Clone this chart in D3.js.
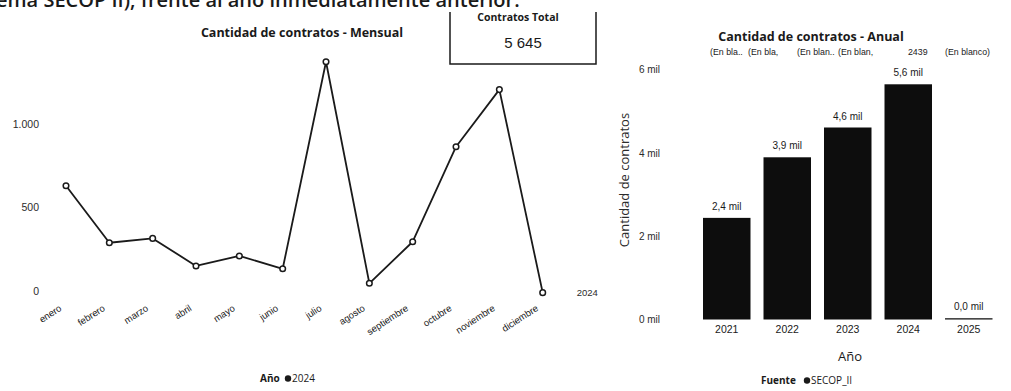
<!DOCTYPE html>
<html>
<head>
<meta charset="utf-8">
<script src="https://cdn.jsdelivr.net/npm/d3@7"></script>
<style>
  html, body { margin: 0; padding: 0; background: #fff; }
  svg { display: block; font-family: "Open Sans", "Noto Sans", sans-serif; }
</style>
</head>
<body>
<svg id="chart" width="1011" height="391"></svg>
<script>
// Monthly contracts, 2024
const months = ["enero", "febrero", "marzo", "abril", "mayo", "junio", "julio",
  "agosto", "septiembre", "octubre", "noviembre", "diciembre"];
const monthlyValues = [642, 301, 327, 162, 222, 145, 1385, 58, 307, 876, 1218, 2];
const monthlyTicks = [0, 500, 1000];

// Yearly contracts
const years = ["2021", "2022", "2023", "2024", "2025"];
const yearlyValues = [2439, 3893, 4608, 5645, 30];
const yearlyTicks = [0, 2000, 4000, 6000];
const yearlyTopLabels = ["(En bla..", "(En bla,", "(En blan..", "(En blan,", "2439", "(En blanco)"];

const totalContracts = d3.sum(monthlyValues);

const svg = d3.select("#chart");
const ink = "#1a1a1a";
const grey = "#2b2b2b";

// Heading sentence above both charts (cut off by the top edge)
svg.append("text")
  .attr("x", -4).attr("y", 7)
  .attr("font-size", 20).attr("font-weight", 600).attr("fill", ink)
  .text("ema SECOP II), frente al año inmediatamente anterior.");

// ---------- Monthly line chart ----------
const x = d3.scalePoint().domain(months).range([66, 542.7]);
const y = d3.scaleLinear().domain([0, 1000]).range([293, 126]);

svg.append("text")
  .attr("x", 302).attr("y", 37)
  .attr("text-anchor", "middle")
  .attr("font-size", 12.5).attr("font-weight", "bold").attr("fill", ink)
  .text("Cantidad de contratos - Mensual");

const yAxisM = svg.append("g").attr("transform", "translate(39,0)")
  .call(d3.axisLeft(y).tickValues(monthlyTicks).tickSize(0).tickPadding(0)
    .tickFormat(d => d3.format(",")(d).replace(",", ".")));
yAxisM.select(".domain").remove();
yAxisM.selectAll("text").attr("font-size", 10.5).attr("fill", grey)
  .attr("font-family", "'Liberation Sans', sans-serif")
  .attr("dy", "0.1em");

const xAxisM = svg.append("g").attr("transform", "translate(0,300)")
  .call(d3.axisBottom(x).tickSize(0).tickPadding(0));
xAxisM.select(".domain").remove();
xAxisM.selectAll("text")
  .attr("font-size", 9.5).attr("fill", ink)
  .attr("text-anchor", "end")
  .attr("dy", "0.35em")
  .attr("transform", "translate(-6,7) rotate(-33)");

const line = d3.line().x((d, i) => x(months[i])).y(d => y(d));
svg.append("path")
  .datum(monthlyValues)
  .attr("d", line)
  .attr("fill", "none").attr("stroke", ink).attr("stroke-width", 1.8)
  .attr("stroke-linejoin", "round");

svg.append("g").selectAll("circle")
  .data(monthlyValues)
  .join("circle")
  .attr("cx", (d, i) => x(months[i]))
  .attr("cy", d => y(d))
  .attr("r", 2.8)
  .attr("fill", "#fff").attr("stroke", ink).attr("stroke-width", 1.5);

svg.append("text")
  .attr("x", x(months[months.length - 1]) + 34)
  .attr("y", y(monthlyValues[monthlyValues.length - 1]))
  .attr("dy", "0.35em")
  .attr("font-size", 9.5).attr("fill", grey)
  .attr("font-family", "'Liberation Sans', sans-serif")
  .text("2024");

// legend
const legM = svg.append("g").attr("transform", "translate(260,378)");
legM.append("text").attr("y", 4).attr("font-size", 10).attr("font-weight", "bold")
  .attr("fill", ink).text("Año");
legM.append("circle").attr("cx", 28).attr("cy", 0.5).attr("r", 3.2).attr("fill", ink);
legM.append("text").attr("x", 32).attr("y", 4).attr("font-size", 10).attr("fill", ink).text("2024");

// Total card
svg.append("path")
  .attr("d", "M450,12 V64 H596 V12")
  .attr("fill", "none").attr("stroke", ink).attr("stroke-width", 1.5);
svg.append("text")
  .attr("x", 518).attr("y", 21)
  .attr("text-anchor", "middle")
  .attr("font-size", 10.5).attr("font-weight", "bold").attr("fill", ink)
  .text("Contratos Total");
svg.append("text")
  .attr("x", 523).attr("y", 48)
  .attr("text-anchor", "middle")
  .attr("font-size", 15).attr("fill", ink)
  .attr("font-family", "'Liberation Sans', sans-serif")
  .text(d3.format(",")(totalContracts).replace(",", " "));

// ---------- Yearly bar chart ----------
const xb = d3.scaleBand().domain(years).range([672.75, 1022.75])
  .paddingInner(0.215).paddingOuter(0.5);
const yb = d3.scaleLinear().domain([0, 6000]).range([319.5, 69.5]);
const milFmt = d => d3.format(".1f")(d / 1000).replace(".", ",") + " mil";

svg.append("text")
  .attr("x", 811).attr("y", 41)
  .attr("text-anchor", "middle")
  .attr("font-size", 12.5).attr("font-weight", "bold").attr("fill", ink)
  .text("Cantidad de contratos - Anual");

// row of truncated category labels above the bars: [band index, fraction of a step]
const topLabelPlaces = [[0, 0.116], [0, 0.744], [1, 0.554], [2, 0.231], [3, 0.388], [4, 0]];
svg.append("g").selectAll("text")
  .data(yearlyTopLabels)
  .join("text")
  .attr("x", (d, i) => xb(years[topLabelPlaces[i][0]]) + xb.step() * topLabelPlaces[i][1])
  .attr("y", 55)
  .attr("font-size", 8.8).attr("fill", ink)
  .attr("font-family", "'Liberation Sans', sans-serif")
  .text(d => d);

const yAxisB = svg.append("g").attr("transform", "translate(660,0)")
  .call(d3.axisLeft(yb).tickValues(yearlyTicks).tickSize(0).tickPadding(0)
    .tickFormat(d => (d / 1000) + " mil"));
yAxisB.select(".domain").remove();
yAxisB.selectAll("text").attr("font-size", 10).attr("fill", grey)
  .attr("font-family", "'Liberation Sans', sans-serif");

svg.append("text")
  .attr("transform", "translate(629,180) rotate(-90)")
  .attr("text-anchor", "middle")
  .attr("font-size", 13).attr("fill", grey)
  .text("Cantidad de contratos");

svg.append("g").selectAll("rect")
  .data(yearlyValues)
  .join("rect")
  .attr("x", (d, i) => xb(years[i]))
  .attr("width", xb.bandwidth())
  .attr("y", d => yb(d))
  .attr("height", d => yb(0) - yb(d))
  .attr("fill", "#0d0d0d");

svg.append("g").selectAll("text")
  .data(yearlyValues)
  .join("text")
  .attr("x", (d, i) => xb(years[i]) + xb.bandwidth() / 2)
  .attr("y", d => yb(d) - 8)
  .attr("text-anchor", "middle")
  .attr("font-size", 10).attr("fill", ink)
  .attr("font-family", "'Liberation Sans', sans-serif")
  .text(d => milFmt(d));

const xAxisB = svg.append("g").attr("transform", "translate(0,326)")
  .call(d3.axisBottom(xb).tickSize(0).tickPadding(0));
xAxisB.select(".domain").remove();
xAxisB.selectAll("text").attr("font-size", 10.5).attr("fill", ink)
  .attr("font-family", "'Liberation Sans', sans-serif");

svg.append("text")
  .attr("x", 850).attr("y", 361)
  .attr("text-anchor", "middle")
  .attr("font-size", 13).attr("fill", ink)
  .text("Año");

const legB = svg.append("g").attr("transform", "translate(761,380)");
legB.append("text").attr("y", 4).attr("font-size", 10).attr("font-weight", "bold")
  .attr("fill", ink).text("Fuente");
legB.append("circle").attr("cx", 46).attr("cy", 0.5).attr("r", 3.2).attr("fill", ink);
legB.append("text").attr("x", 50).attr("y", 4).attr("font-size", 10).attr("fill", ink).text("SECOP_II");
</script>
</body>
</html>
